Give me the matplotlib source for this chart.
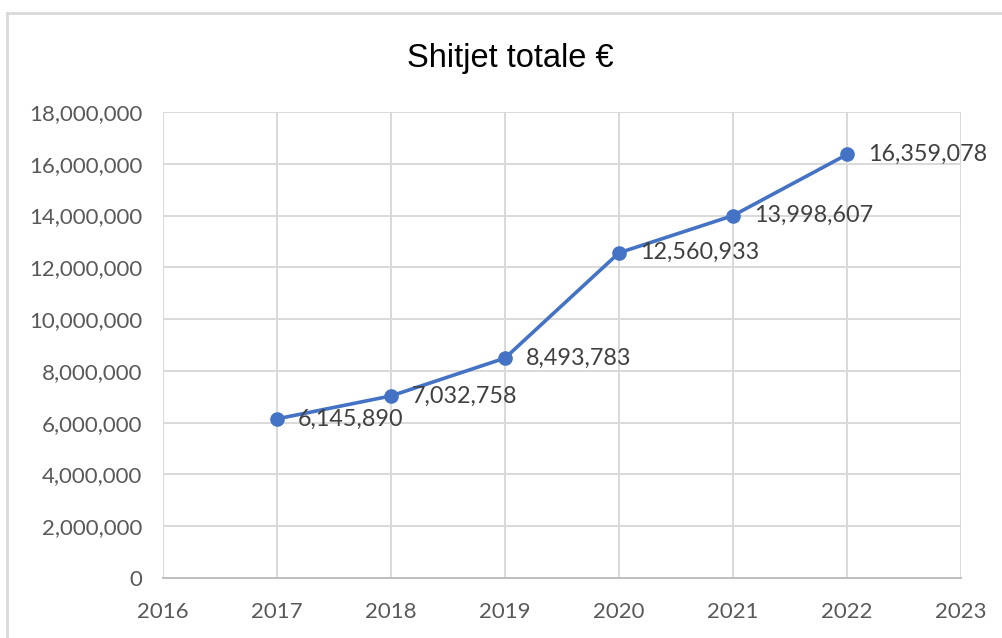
import matplotlib.pyplot as plt
from matplotlib.lines import Line2D
from matplotlib.ticker import FuncFormatter, MultipleLocator

years = [2017, 2018, 2019, 2020, 2021, 2022]
sales = [6145890, 7032758, 8493783, 12560933, 13998607, 16359078]
year_ticks = [2016, 2017, 2018, 2019, 2020, 2021, 2022, 2023]

plt.rcParams['font.family'] = ['Lato', 'DejaVu Sans']

fig = plt.figure(figsize=(10.03, 6.38), dpi=100)
ax = fig.add_axes([163 / 1003, 60 / 638, 798 / 1003, 466 / 638])

ax.plot(years, sales, color='#4472C4', linewidth=2.6, marker='o',
        markersize=9.5, zorder=3, clip_on=False)

for x, y in zip(years, sales):
    ax.annotate(f'{y:,}', (x, y), xytext=(15, 0), textcoords='offset points',
                ha='left', va='center', fontsize=16.8, color='#404040')

ax.set_xlim(2016, 2023)
ax.set_ylim(0, 18000000)
ax.set_xticks(year_ticks)
ax.yaxis.set_major_locator(MultipleLocator(2000000))
ax.yaxis.set_major_formatter(FuncFormatter(lambda v, p: f'{int(v):,}'))

ax.grid(True, color='#D9D9D9', linewidth=1.4)
ax.set_axisbelow(True)
for side in ['top', 'left', 'right']:
    ax.spines[side].set_visible(False)
ax.spines['bottom'].set_color('#BFBFBF')
ax.spines['bottom'].set_linewidth(1.4)
ax.tick_params(length=0, labelsize=16, labelcolor='#595959')
ax.tick_params(axis='x', pad=17)
ax.tick_params(axis='y', pad=15)

fig.text(510 / 1003, 1 - 58 / 638, 'Shitjet totale €', ha='center', va='center',
         fontsize=23.5, family=['Liberation Sans', 'DejaVu Sans'], color='black')

# chart frame (left and top edges only visible)
fig.add_artist(Line2D([7 / 1003, 7 / 1003], [0, 1 - 13 / 638], transform=fig.transFigure,
                      color='#D9D9D9', linewidth=2))
fig.add_artist(Line2D([7 / 1003, 1], [1 - 13 / 638, 1 - 13 / 638], transform=fig.transFigure,
                      color='#D9D9D9', linewidth=2))

fig.savefig('out.png', dpi=100)
